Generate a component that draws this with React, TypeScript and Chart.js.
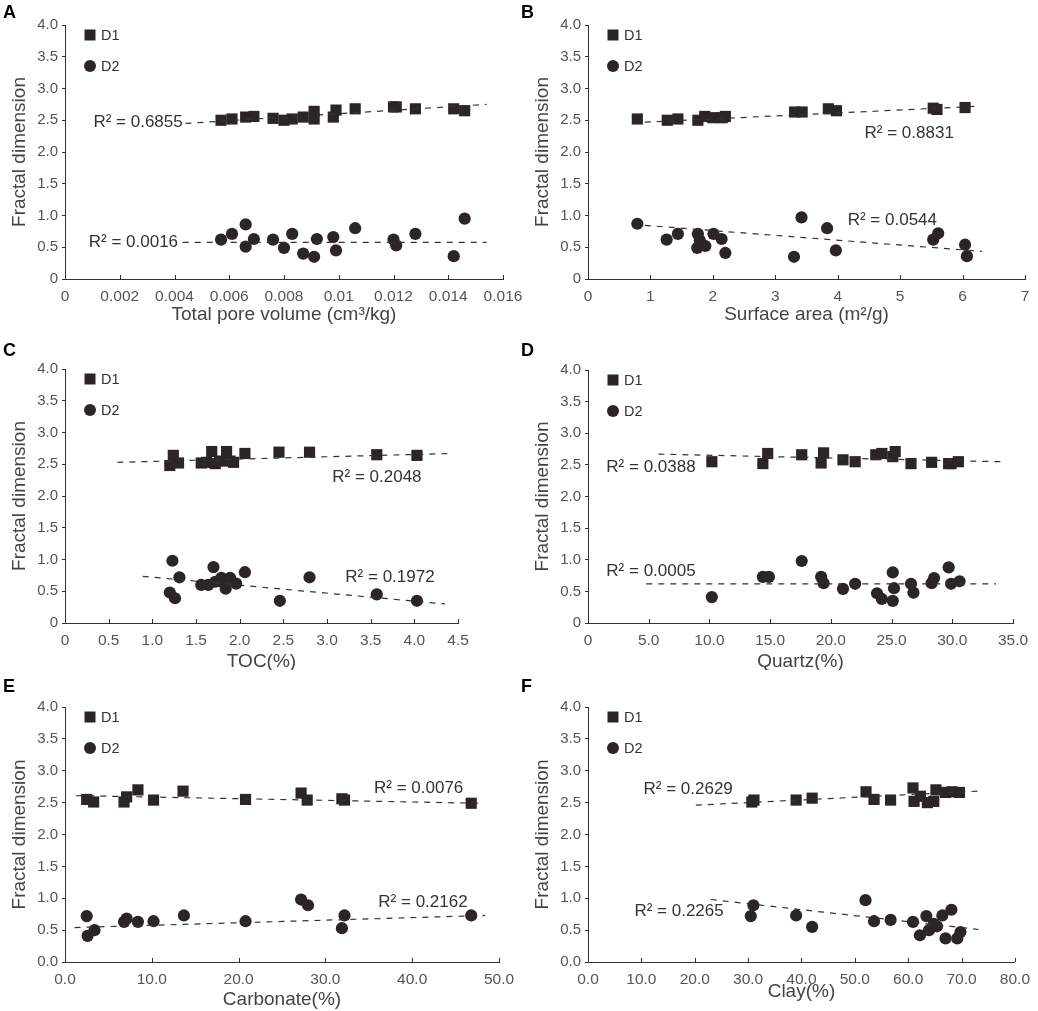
import { useEffect, useRef } from 'react';
import { Chart, registerables } from 'chart.js';

Chart.register(...registerables);

type Pt = [number, number];

// A - total pore volume
const poreD1: Pt[] = [[0.0057, 2.50], [0.0061, 2.52], [0.0066, 2.55], [0.0069, 2.56], [0.0076, 2.53], [0.0080, 2.50], [0.0083, 2.52], [0.0087, 2.55], [0.0091, 2.64], [0.0091, 2.52], [0.0099, 2.66], [0.0098, 2.55], [0.0106, 2.68], [0.0120, 2.71], [0.0121, 2.71], [0.0128, 2.68], [0.0142, 2.68], [0.0146, 2.65]];
const poreD2: Pt[] = [[0.0057, 0.62], [0.0061, 0.71], [0.0066, 0.86], [0.0066, 0.51], [0.0069, 0.63], [0.0076, 0.62], [0.0080, 0.49], [0.0083, 0.71], [0.0087, 0.40], [0.0091, 0.35], [0.0092, 0.63], [0.0098, 0.66], [0.0099, 0.45], [0.0106, 0.80], [0.0120, 0.62], [0.0121, 0.53], [0.0128, 0.71], [0.0142, 0.36], [0.0146, 0.95]];
const poreFit1: Pt[] = [[0.0044, 2.45], [0.0154, 2.75]];
const poreFit2: Pt[] = [[0.0043, 0.577], [0.0154, 0.577]];

// B - surface area
const areaD1: Pt[] = [[0.79, 2.52], [1.27, 2.50], [1.44, 2.52], [1.76, 2.50], [1.87, 2.56], [2.00, 2.54], [2.15, 2.54], [2.20, 2.56], [3.31, 2.63], [3.43, 2.63], [3.85, 2.68], [3.98, 2.65], [5.53, 2.69], [5.59, 2.67], [6.04, 2.70]];
const areaD2: Pt[] = [[0.79, 0.87], [1.26, 0.62], [1.44, 0.71], [1.76, 0.71], [1.79, 0.61], [1.75, 0.49], [1.88, 0.52], [2.01, 0.71], [2.14, 0.63], [2.20, 0.41], [3.30, 0.35], [3.42, 0.97], [3.83, 0.80], [3.97, 0.45], [5.53, 0.62], [5.61, 0.72], [6.04, 0.54], [6.07, 0.36]];
const areaFit1: Pt[] = [[0.91, 2.47], [6.24, 2.72]];
const areaFit2: Pt[] = [[0.91, 0.845], [6.31, 0.436]];

// C - TOC
const tocD1: Pt[] = [[1.20, 2.48], [1.24, 2.64], [1.30, 2.52], [1.56, 2.52], [1.62, 2.53], [1.68, 2.70], [1.72, 2.51], [1.77, 2.55], [1.85, 2.70], [1.89, 2.55], [1.93, 2.53], [2.06, 2.67], [2.45, 2.69], [2.80, 2.69], [3.57, 2.65], [4.03, 2.64]];
const tocD2: Pt[] = [[1.23, 0.98], [1.20, 0.48], [1.26, 0.39], [1.31, 0.72], [1.56, 0.60], [1.64, 0.60], [1.70, 0.88], [1.72, 0.65], [1.77, 0.66], [1.79, 0.71], [1.84, 0.54], [1.89, 0.71], [1.96, 0.62], [2.06, 0.80], [2.46, 0.35], [2.80, 0.72], [3.57, 0.45], [4.03, 0.35]];
const tocFit1: Pt[] = [[0.60, 2.53], [4.43, 2.67]];
const tocFit2: Pt[] = [[0.89, 0.735], [4.35, 0.30]];

// D - quartz
const quartzD1: Pt[] = [[10.2, 2.55], [14.4, 2.52], [14.8, 2.68], [17.6, 2.66], [19.2, 2.53], [19.4, 2.69], [21.0, 2.58], [22.0, 2.55], [23.7, 2.66], [24.2, 2.68], [25.1, 2.63], [25.3, 2.71], [26.6, 2.52], [28.3, 2.54], [29.7, 2.52], [29.9, 2.52], [30.5, 2.55]];
const quartzD2: Pt[] = [[10.2, 0.41], [14.4, 0.73], [14.9, 0.73], [17.6, 0.98], [19.2, 0.73], [19.4, 0.63], [21.0, 0.54], [22.0, 0.62], [23.8, 0.47], [24.2, 0.38], [25.1, 0.80], [25.2, 0.55], [25.1, 0.35], [26.6, 0.62], [26.8, 0.48], [28.3, 0.63], [28.5, 0.71], [29.7, 0.88], [29.9, 0.62], [30.6, 0.66]];
const quartzFit1: Pt[] = [[5.8, 2.67], [34.0, 2.55]];
const quartzFit2: Pt[] = [[4.8, 0.62], [33.6, 0.62]];

// E - carbonate
const carbD1: Pt[] = [[2.5, 2.55], [3.3, 2.51], [6.8, 2.51], [7.1, 2.59], [8.4, 2.70], [10.2, 2.54], [13.6, 2.68], [20.8, 2.55], [27.2, 2.65], [27.9, 2.54], [31.9, 2.56], [32.2, 2.54], [46.8, 2.49]];
const carbD2: Pt[] = [[2.5, 0.72], [2.6, 0.41], [3.4, 0.50], [6.8, 0.63], [7.1, 0.68], [8.4, 0.63], [10.2, 0.64], [13.7, 0.73], [20.8, 0.64], [27.2, 0.98], [28.0, 0.89], [32.2, 0.73], [31.9, 0.53], [46.8, 0.73]];
const carbFit1: Pt[] = [[1.3, 2.61], [47.8, 2.49]];
const carbFit2: Pt[] = [[1.1, 0.54], [48.4, 0.73]];

// F - clay
const clayD1: Pt[] = [[30.7, 2.51], [31.1, 2.54], [39.0, 2.54], [42.0, 2.57], [52.1, 2.67], [53.6, 2.55], [56.7, 2.54], [60.9, 2.73], [61.1, 2.52], [62.3, 2.60], [63.6, 2.50], [64.8, 2.52], [65.2, 2.70], [67.0, 2.66], [68.2, 2.67], [69.6, 2.66]];
const clayD2: Pt[] = [[30.5, 0.72], [31.0, 0.89], [39.0, 0.73], [42.0, 0.55], [52.0, 0.97], [53.6, 0.64], [56.7, 0.66], [60.9, 0.63], [62.2, 0.42], [63.4, 0.72], [63.9, 0.50], [64.8, 0.60], [65.4, 0.56], [66.4, 0.73], [67.0, 0.37], [68.1, 0.82], [69.2, 0.37], [69.8, 0.47]];
const clayFit1: Pt[] = [[20.2, 2.46], [73.2, 2.68]];
const clayFit2: Pt[] = [[23.0, 0.98], [73.2, 0.51]];

const ink = '#2b2525';
const font = '"Liberation Sans", Arial, sans-serif';

type Note = { text: string; x: number; y: number; align: CanvasTextAlign };

type PanelCfg = {
  letter: string;
  xTitle: string;
  xMax: number;
  xStep: number;
  xFmt: (v: number) => string;
  zeroLabel: string;
  d1: Pt[];
  d2: Pt[];
  fit1: Pt[];
  fit2: Pt[];
  notes: Note[];
  box: [number, number, number, number]; // canvas left, top, w, h
  area: { left: number; top: number; right: number; bottom: number };
  yTitleX: number;
  xTitleGap: number;
  letterTop: number;
};

const dec1 = (v: number) => (v === 0 ? '0' : v.toFixed(1));
const dec1z = (v: number) => v.toFixed(1);

const panels: PanelCfg[] = [
  {
    letter: 'A', xTitle: 'Total pore volume (cm³/kg)', xMax: 0.016, xStep: 0.002,
    xFmt: v => (v === 0 ? '0' : String(Number(v.toFixed(3)))), zeroLabel: '0',
    d1: poreD1, d2: poreD2, fit1: poreFit1, fit2: poreFit2,
    notes: [
      { text: 'R² = 0.6855', x: 0.0043, y: 2.46, align: 'right' },
      { text: 'R² = 0.0016', x: 0.00413, y: 0.57, align: 'right' },
    ],
    box: [0, 0, 545, 330], area: { left: 65, top: 25, right: 503, bottom: 279 }, yTitleX: 20, xTitleGap: 36, letterTop: 3,
  },
  {
    letter: 'B', xTitle: 'Surface area (m²/g)', xMax: 7, xStep: 1,
    xFmt: v => String(v), zeroLabel: '0',
    d1: areaD1, d2: areaD2, fit1: areaFit1, fit2: areaFit2,
    notes: [
      { text: 'R² = 0.8831', x: 4.43, y: 2.29, align: 'left' },
      { text: 'R² = 0.0544', x: 4.16, y: 0.93, align: 'left' },
    ],
    box: [518, 0, 520, 330], area: { left: 588, top: 25, right: 1025, bottom: 279 }, yTitleX: 25, xTitleGap: 36, letterTop: 3,
  },
  {
    letter: 'C', xTitle: 'TOC(%)', xMax: 4.5, xStep: 0.5,
    xFmt: dec1, zeroLabel: '0',
    d1: tocD1, d2: tocD2, fit1: tocFit1, fit2: tocFit2,
    notes: [
      { text: 'R² = 0.2048', x: 3.06, y: 2.30, align: 'left' },
      { text: 'R² = 0.1972', x: 3.21, y: 0.72, align: 'left' },
    ],
    box: [0, 330, 545, 340], area: { left: 65, top: 369, right: 458, bottom: 623 }, yTitleX: 20, xTitleGap: 39, letterTop: 341,
  },
  {
    letter: 'D', xTitle: 'Quartz(%)', xMax: 35, xStep: 5,
    xFmt: dec1, zeroLabel: '0',
    d1: quartzD1, d2: quartzD2, fit1: quartzFit1, fit2: quartzFit2,
    notes: [
      { text: 'R² = 0.0388', x: 1.51, y: 2.46, align: 'left' },
      { text: 'R² = 0.0005', x: 1.51, y: 0.82, align: 'left' },
    ],
    box: [518, 330, 520, 340], area: { left: 588, top: 370, right: 1013, bottom: 623 }, yTitleX: 25, xTitleGap: 39, letterTop: 341,
  },
  {
    letter: 'E', xTitle: 'Carbonate(%)', xMax: 50, xStep: 10,
    xFmt: dec1z, zeroLabel: '0.0',
    d1: carbD1, d2: carbD2, fit1: carbFit1, fit2: carbFit2,
    notes: [
      { text: 'R² = 0.0076', x: 35.6, y: 2.72, align: 'left' },
      { text: 'R² = 0.2162', x: 36.1, y: 0.93, align: 'left' },
    ],
    box: [0, 670, 545, 341], area: { left: 65, top: 707, right: 499, bottom: 962 }, yTitleX: 20, xTitleGap: 38, letterTop: 677,
  },
  {
    letter: 'F', xTitle: 'Clay(%)', xMax: 80, xStep: 10,
    xFmt: dec1z, zeroLabel: '0.0',
    d1: clayD1, d2: clayD2, fit1: clayFit1, fit2: clayFit2,
    notes: [
      { text: 'R² = 0.2629', x: 10.4, y: 2.71, align: 'left' },
      { text: 'R² = 0.2265', x: 8.7, y: 0.80, align: 'left' },
    ],
    box: [518, 670, 520, 341], area: { left: 588, top: 707, right: 1018, bottom: 962 }, yTitleX: 25, xTitleGap: 30, letterTop: 677,
  },
];

const toXY = (pts: Pt[]) => pts.map(([x, y]) => ({ x, y }));

// x ticks point inward (up from the axis)
const innerTicks = {
  id: 'innerTicks',
  afterDraw(chart: any) {
    const xs = chart.scales.x;
    const { ctx, chartArea } = chart;
    ctx.save();
    ctx.strokeStyle = '#333';
    ctx.lineWidth = 1;
    xs.ticks.forEach((t: any) => {
      const px = Math.round(xs.getPixelForValue(t.value)) + 0.5;
      ctx.beginPath();
      ctx.moveTo(px, chartArea.bottom);
      ctx.lineTo(px, chartArea.bottom - 4);
      ctx.stroke();
    });
    ctx.restore();
  },
};

// D1 / D2 key inside the plot area
const keyBox = {
  id: 'keyBox',
  afterDraw(chart: any) {
    const { ctx, chartArea } = chart;
    const cx = chartArea.left + 25;
    ctx.save();
    ctx.fillStyle = ink;
    ctx.fillRect(cx - 5.5, chartArea.top + 10 - 5.5, 11, 11);
    ctx.beginPath();
    ctx.arc(cx, chartArea.top + 41, 6, 0, Math.PI * 2);
    ctx.fill();
    ctx.fillStyle = '#333';
    ctx.font = `14.5px ${font}`;
    ctx.textBaseline = 'middle';
    ctx.textAlign = 'left';
    ctx.fillText('D1', cx + 11, chartArea.top + 10.5);
    ctx.fillText('D2', cx + 11, chartArea.top + 41.5);
    ctx.restore();
  },
};

const r2Notes = {
  id: 'r2Notes',
  afterDatasetsDraw(chart: any, _args: any, opts: any) {
    const { ctx, scales } = chart;
    ctx.save();
    ctx.fillStyle = '#333';
    ctx.font = `17px ${font}`;
    ctx.textBaseline = 'middle';
    (opts.notes as Note[]).forEach(n => {
      ctx.textAlign = n.align;
      ctx.fillText(n.text, scales.x.getPixelForValue(n.x), scales.y.getPixelForValue(n.y));
    });
    ctx.restore();
  },
};

function Panel({ p }: { p: PanelCfg }) {
  const canvasRef = useRef<HTMLCanvasElement>(null);

  useEffect(() => {
    if (!canvasRef.current) return;
    const [bl, bt, bw, bh] = p.box;
    const yWidth = p.area.left - bl;
    const xHeight = p.xTitleGap + 11;
    const padBottom = bt + bh - p.area.bottom - xHeight;

    const trend = (pts: Pt[]) => ({
      type: 'line' as const,
      data: toXY(pts),
      borderColor: '#333',
      borderWidth: 1.2,
      borderDash: [6, 6],
      pointRadius: 0,
      fill: false,
      order: 0,
    });

    const chart = new Chart(canvasRef.current, {
      type: 'scatter',
      data: {
        datasets: [
          { label: 'D1', data: toXY(p.d1), pointStyle: 'rect', pointRadius: 7.9, backgroundColor: ink, borderWidth: 0, order: 1 },
          { label: 'D2', data: toXY(p.d2), pointStyle: 'circle', pointRadius: 6.1, backgroundColor: ink, borderWidth: 0, order: 1 },
          trend(p.fit1) as any,
          trend(p.fit2) as any,
        ],
      },
      options: {
        responsive: false,
        animation: false,
        layout: { padding: { top: p.area.top - bt, right: bl + bw - p.area.right, bottom: padBottom, left: 0 } },
        plugins: {
          legend: { display: false },
          tooltip: { enabled: false },
          r2Notes: { notes: p.notes },
        } as any,
        scales: {
          x: {
            type: 'linear',
            min: 0,
            max: p.xMax,
            ticks: {
              stepSize: p.xStep,
              autoSkip: false,
              maxRotation: 0,
              padding: 8,
              color: '#555',
              font: { family: font, size: 15.5 },
              callback: (v: any) => p.xFmt(Number(v)),
            },
            grid: { display: true, drawOnChartArea: false, drawTicks: false, color: '#333' },
            border: { color: '#333', width: 1 },
            title: { display: true, text: p.xTitle, color: '#444', font: { family: font, size: 19 }, padding: { top: 0, bottom: 0 } },
            afterFit: (s: any) => { s.height = xHeight; },
          },
          y: {
            type: 'linear',
            min: 0,
            max: 4,
            ticks: {
              stepSize: 0.5,
              padding: 4,
              color: '#555',
              font: { family: font, size: 15 },
              callback: (v: any) => (Number(v) === 0 ? p.zeroLabel : Number(v).toFixed(1)),
            },
            grid: { display: true, drawOnChartArea: false, drawTicks: true, tickLength: 3, color: '#333' },
            border: { color: '#333', width: 1 },
            title: { display: true, text: 'Fractal dimension', color: '#444', font: { family: font, size: 19 }, padding: { top: p.yTitleX - 11.4, bottom: 0 } },
            afterFit: (s: any) => { s.width = yWidth; },
          },
        },
      },
      plugins: [innerTicks, keyBox, r2Notes],
    });

    return () => {
      chart.destroy();
    };
  }, [p]);

  return (
    <>
      <canvas
        ref={canvasRef}
        width={p.box[2]}
        height={p.box[3]}
        style={{ position: 'absolute', left: p.box[0], top: p.box[1], width: p.box[2], height: p.box[3] }}
      />
      <div
        style={{
          position: 'absolute',
          left: p.box[0] + 3,
          top: p.letterTop,
          font: `bold 18px ${font}`,
          lineHeight: 1,
          color: '#000',
        }}
      >
        {p.letter}
      </div>
    </>
  );
}

export default function App() {
  useEffect(() => {
    document.body.style.margin = '0';
  }, []);

  return (
    <div style={{ position: 'relative', width: 1038, height: 1011, overflow: 'hidden', background: '#fff' }}>
      {panels.map(p => (
        <Panel key={p.letter} p={p} />
      ))}
    </div>
  );
}
